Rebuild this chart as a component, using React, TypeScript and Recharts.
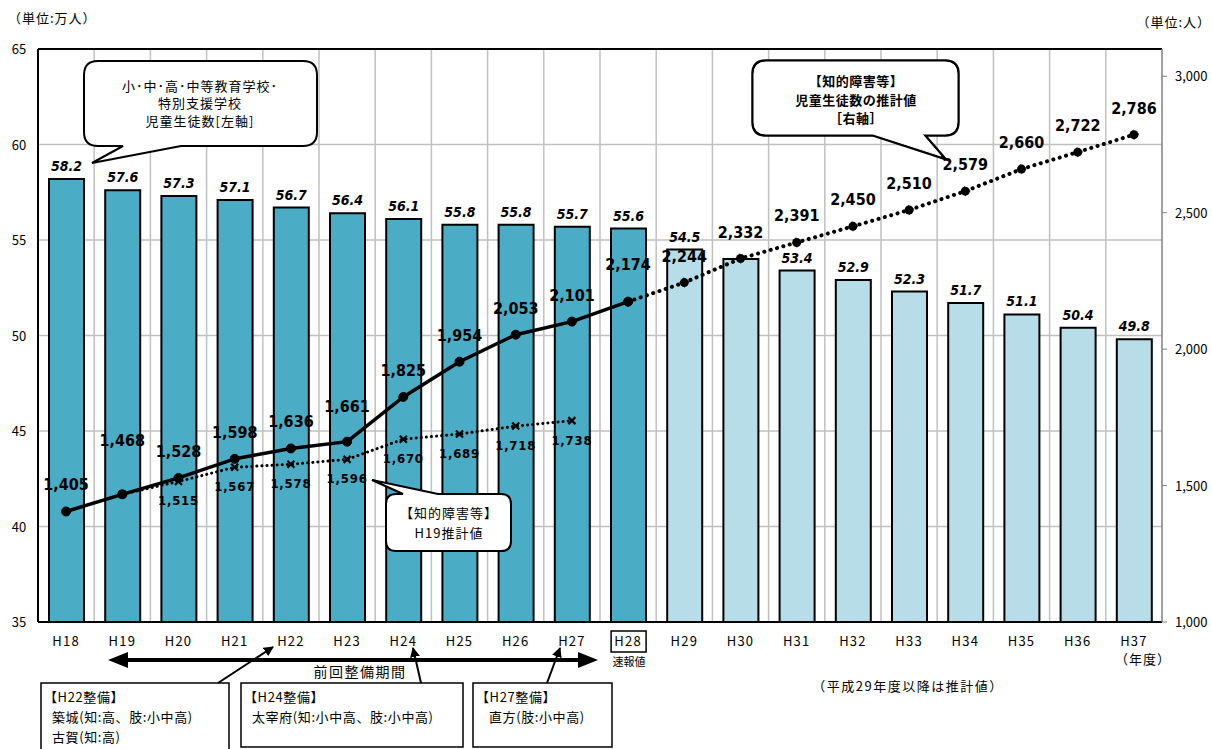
import React from 'react';
import {
  ComposedChart,
  Bar,
  Line,
  XAxis,
  YAxis,
  CartesianGrid,
  Cell,
  LabelList,
  ReferenceLine,
} from 'recharts';

// ---------- data ----------
const categories = [
  'H18', 'H19', 'H20', 'H21', 'H22', 'H23', 'H24', 'H25', 'H26', 'H27',
  'H28', 'H29', 'H30', 'H31', 'H32', 'H33', 'H34', 'H35', 'H36', 'H37',
];
// 小・中・高・中等教育学校・特別支援学校 児童生徒数（万人）[左軸]
const studentCounts = [
  58.2, 57.6, 57.3, 57.1, 56.7, 56.4, 56.1, 55.8, 55.8, 55.7,
  55.6, 54.5, 54.0, 53.4, 52.9, 52.3, 51.7, 51.1, 50.4, 49.8,
];
// 知的障害等 児童生徒数 実績（人）[右軸]
const disabledActual = [
  1405, 1468, 1528, 1598, 1636, 1661, 1825, 1954, 2053, 2101,
  2174, null, null, null, null, null, null, null, null, null,
];
// 知的障害等 児童生徒数の推計値（人）[右軸]
const disabledProjection = [
  null, null, null, null, null, null, null, null, null, null,
  2174, 2244, 2332, 2391, 2450, 2510, 2579, 2660, 2722, 2786,
];
// 知的障害等 H19推計値（人）
const h19Estimate = [
  null, 1468, 1515, 1567, 1578, 1596, 1670, 1689, 1718, 1738,
  null, null, null, null, null, null, null, null, null, null,
];
const leftTicks = [35, 40, 45, 50, 55, 60, 65];
const rightTicks = [1000, 1500, 2000, 2500, 3000];
const firstEstimateCategory = 'H29';
const preliminaryCategory = 'H28';
const hiddenBarLabels = ['H30'];

const data = categories.map((cat, i) => ({
  cat,
  students: studentCounts[i],
  actual: disabledActual[i],
  projection: disabledProjection[i],
  h19: h19Estimate[i],
}));
const firstEstimateIndex = categories.indexOf(firstEstimateCategory);

// ---------- styles ----------
const NUM_FONT = "'DejaVu Sans Condensed', 'DejaVu Sans', sans-serif";
const JP_FONT = "'Noto Sans CJK JP', 'Noto Sans', sans-serif";
const DARK = '#4BACC6';
const LIGHT = '#B7DDE8';

// ---------- custom renderers ----------
const XTick = (props: any) => {
  const { x, y, payload } = props;
  const v = payload.value;
  return (
    <g>
      <text x={x} y={y + 24} textAnchor="middle" fontFamily={JP_FONT} fontSize={13} letterSpacing={1.2} fill="#000">
        {v}
      </text>
      {v === preliminaryCategory && (
        <g>
          <rect x={x - 17} y={y + 9} width={35} height={21} fill="none" stroke="#000" strokeWidth={1.5} />
          <text x={x + 1} y={y + 44} textAnchor="middle" fontFamily={JP_FONT} fontSize={11} fill="#000">
            速報値
          </text>
        </g>
      )}
      {v === categories[categories.length - 1] && (
        <text x={x + 9} y={y + 42} textAnchor="middle" fontFamily={JP_FONT} fontSize={13} letterSpacing={1} fill="#000">
          （年度）
        </text>
      )}
    </g>
  );
};

const LeftTick = (props: any) => {
  const { x, y, payload } = props;
  return (
    <text x={x - 19} y={y + 5} textAnchor="middle" fontFamily={JP_FONT} fontSize={13} fill="#000">
      {payload.value}
    </text>
  );
};

const RightTick = (props: any) => {
  const { x, y, payload } = props;
  return (
    <text x={x} y={y + 5} textAnchor="start" fontFamily={JP_FONT} fontSize={13} fill="#000">
      {Number(payload.value).toLocaleString('en-US')}
    </text>
  );
};

const BarValueLabel = (props: any) => {
  const { x, y, width, value, index } = props;
  if (value == null) return null;
  if (hiddenBarLabels.includes(categories[index])) return null;
  return (
    <text
      x={x + width / 2}
      y={y - 8}
      textAnchor="middle"
      fontFamily={NUM_FONT}
      fontSize={14}
      fontWeight="bold"
      fontStyle="italic"
      fill="#000"
    >
      {Number(value).toFixed(1)}
    </text>
  );
};

const mainLabelLift: Record<string, number> = { H19: 54, H23: 36, H28: 38 };
const MainLineLabel = (skipCats: string[]) => (props: any) => {
  const { x, y, value, index } = props;
  if (value == null) return null;
  const cat = categories[index];
  if (skipCats.includes(cat)) return null;
  const lift = mainLabelLift[cat] ?? 27;
  return (
    <text
      x={x}
      y={y - lift + 6}
      textAnchor="middle"
      fontFamily={NUM_FONT}
      fontSize={16}
      fontWeight="bold"
      fill="#000"
    >
      {Number(value).toLocaleString('en-US')}
    </text>
  );
};

const EstimateLabel = (props: any) => {
  const { x, y, value, index } = props;
  if (value == null) return null;
  if (index === 1) return null;
  return (
    <text
      x={x}
      y={y + 24}
      textAnchor="middle"
      fontFamily={NUM_FONT}
      fontSize={13}
      fontWeight="bold"
      letterSpacing={0.8}
      fill="#000"
    >
      {Number(value).toLocaleString('en-US')}
    </text>
  );
};

const CrossDot = (props: any) => {
  const { cx, cy, value, index } = props;
  if (value == null || cx == null || cy == null) return <g key={`x${index}`} />;
  const s = 3.5;
  return (
    <path
      key={`x${index}`}
      d={`M${cx - s},${cy - s}L${cx + s},${cy + s}M${cx - s},${cy + s}L${cx + s},${cy - s}`}
      stroke="#000"
      strokeWidth={2.2}
      fill="none"
    />
  );
};

// speech bubble path
function bubblePath(
  x: number, y: number, w: number, h: number, r: number,
  tail: { side: 'top' | 'bottom'; a: number; b: number; tx: number; ty: number }
) {
  const x2 = x + w;
  const y2 = y + h;
  let d = `M${x + r},${y}`;
  if (tail.side === 'top') d += `L${tail.a},${y}L${tail.tx},${tail.ty}L${tail.b},${y}`;
  d += `L${x2 - r},${y}Q${x2},${y} ${x2},${y + r}L${x2},${y2 - r}Q${x2},${y2} ${x2 - r},${y2}`;
  if (tail.side === 'bottom') d += `L${tail.b},${y2}L${tail.tx},${tail.ty}L${tail.a},${y2}`;
  d += `L${x + r},${y2}Q${x},${y2} ${x},${y2 - r}L${x},${y + r}Q${x},${y} ${x + r},${y}Z`;
  return d;
}

const Overlay = () => {
  const b1 = bubblePath(84, 61, 233, 85, 14, { side: 'bottom', a: 123, b: 181, tx: 92, ty: 163 });
  const b2 = bubblePath(754, 62, 203, 72, 12, { side: 'bottom', a: 873, b: 922, tx: 941, ty: 156 });
  const b3 = bubblePath(386, 494, 125, 57, 10, { side: 'top', a: 403, b: 438, tx: 372, ty: 480 });
  const txt = { fontFamily: JP_FONT, fontSize: 13, fill: '#000' } as const;
  return (
    <svg
      width={1212}
      height={749}
      style={{ position: 'absolute', left: 0, top: 0, pointerEvents: 'none' }}
    >
      <defs>
        <marker id="ah" viewBox="0 0 10 10" refX="9" refY="5" markerWidth="5" markerHeight="5" orient="auto">
          <path d="M0,0L10,5L0,10Z" fill="#000" />
        </marker>
      </defs>
      {/* units */}
      <text x={8} y={23} {...txt} letterSpacing={1}>（単位:万人）</text>
      <text x={1211} y={27} textAnchor="end" {...txt} letterSpacing={1}>（単位:人）</text>

      {/* bubble 1 */}
      <path d={b1} fill="#fff" stroke="#000" strokeWidth={2} />
      <text x={200} y={91} textAnchor="middle" {...txt} letterSpacing={1}>小･中･高･中等教育学校･</text>
      <text x={200} y={108} textAnchor="middle" {...txt} letterSpacing={1}>特別支援学校</text>
      <text x={200} y={126} textAnchor="middle" {...txt} letterSpacing={1}>児童生徒数[左軸]</text>

      {/* bubble 2 */}
      <path d={b2} fill="#fff" stroke="#000" strokeWidth={5.5} />
      <path d={b2} fill="#fff" stroke="#fff" strokeWidth={1} />
      <text x={856} y={86} textAnchor="middle" {...txt} fontWeight="bold" letterSpacing={0.5}>【知的障害等】</text>
      <text x={856} y={105} textAnchor="middle" {...txt} fontWeight="bold" letterSpacing={0.5}>児童生徒数の推計値</text>
      <text x={856} y={123} textAnchor="middle" {...txt} fontWeight="bold" letterSpacing={0.5}>［右軸］</text>

      {/* bubble 3 */}
      <path d={b3} fill="#fff" stroke="#000" strokeWidth={2} />
      <text x={449} y={518} textAnchor="middle" {...txt} letterSpacing={1}>【知的障害等】</text>
      <text x={449} y={538} textAnchor="middle" {...txt} letterSpacing={1}>H19推計値</text>

      {/* period arrow */}
      <line x1={124} y1={660} x2={582} y2={660} stroke="#000" strokeWidth={4} />
      <path d="M108,660L128,652L128,668Z" fill="#000" />
      <path d="M598,660L578,652L578,668Z" fill="#000" />
      <text x={360} y={677} textAnchor="middle" {...txt} fontSize={14} letterSpacing={1.5}>前回整備期間</text>

      {/* boxes */}
      <rect x={41} y={683} width={188} height={80} fill="#fff" stroke="#000" strokeWidth={1.5} />
      <rect x={241} y={683} width={222} height={64} fill="#fff" stroke="#000" strokeWidth={1.5} />
      <rect x={473} y={683} width={139} height={64} fill="#fff" stroke="#000" strokeWidth={1.5} />
      <line x1={218} y1={683} x2={273} y2={647} stroke="#000" strokeWidth={2} markerEnd="url(#ah)" />
      <line x1={421} y1={683} x2={413} y2={648} stroke="#000" strokeWidth={2} markerEnd="url(#ah)" />
      <line x1={547} y1={683} x2={560} y2={648} stroke="#000" strokeWidth={2} markerEnd="url(#ah)" />

      <text x={44} y={702} {...txt} letterSpacing={0.6}>【H22整備】</text>
      <text x={52} y={722} {...txt} letterSpacing={0.6}>築城(知:高、肢:小中高)</text>
      <text x={52} y={742} {...txt} letterSpacing={0.6}>古賀(知:高)</text>
      <text x={244} y={702} {...txt} letterSpacing={0.6}>【H24整備】</text>
      <text x={252} y={722} {...txt} letterSpacing={0.6}>太宰府(知:小中高、肢:小中高)</text>
      <text x={476} y={702} {...txt} letterSpacing={0.6}>【H27整備】</text>
      <text x={489} y={722} {...txt} letterSpacing={0.6}>直方(肢:小中高)</text>

      <text x={908} y={691} textAnchor="middle" {...txt} letterSpacing={1.5}>（平成29年度以降は推計値）</text>
    </svg>
  );
};

export default function App() {
  return (
    <div style={{ position: 'absolute', left: 0, top: 0, width: 1212, height: 749, background: '#fff' }}>
      <ComposedChart
        width={1212}
        height={749}
        data={data}
        margin={{ top: 49, right: 0, bottom: 0, left: 0 }}
      >
        <CartesianGrid
          yAxisId="left"
          stroke="#C0C0C0"
          strokeWidth={1.5}
          horizontal
          vertical
          verticalCoordinatesGenerator={(p: any) => {
            const n = categories.length;
            const l = p?.offset?.left ?? 38;
            const w = p?.offset?.width ?? 1124;
            return categories.slice(1).map((_, i) => l + (w * (i + 1)) / n);
          }}
        />
        <XAxis
          dataKey="cat"
          height={127}
          tickSize={0}
          tickMargin={0}
          interval={0}
          axisLine={{ stroke: '#000', strokeWidth: 2 }}
          tickLine={false}
          tick={<XTick />}
        />
        <YAxis
          yAxisId="left"
          width={38}
          domain={[35, 65]}
          ticks={leftTicks}
          interval={0}
          tickSize={0}
          tickMargin={0}
          tickLine={false}
          axisLine={{ stroke: '#000', strokeWidth: 2 }}
          tick={<LeftTick />}
          allowDataOverflow
        />
        <YAxis
          yAxisId="right"
          orientation="right"
          width={50}
          domain={[1000, 3100]}
          ticks={rightTicks}
          interval={0}
          tickSize={5}
          tickMargin={8}
          tickLine={{ stroke: '#808080' }}
          axisLine={{ stroke: '#808080', strokeWidth: 1.5 }}
          tick={<RightTick />}
          allowDataOverflow
        />
        <ReferenceLine yAxisId="left" y={65} stroke="#000" strokeWidth={2} />
        <Bar
          yAxisId="left"
          dataKey="students"
          barSize={35}
          stroke="#000"
          strokeWidth={2}
          isAnimationActive={false}
        >
          {data.map((d, i) => (
            <Cell key={d.cat} fill={i >= firstEstimateIndex ? LIGHT : DARK} />
          ))}
          <LabelList dataKey="students" content={BarValueLabel} />
        </Bar>
        <Line
          yAxisId="right"
          dataKey="h19"
          stroke="#000"
          strokeWidth={3}
          strokeDasharray="0.1 5"
          strokeLinecap="round"
          dot={CrossDot}
          activeDot={false}
          isAnimationActive={false}
        >
          <LabelList dataKey="h19" content={EstimateLabel} />
        </Line>
        <Line
          yAxisId="right"
          dataKey="projection"
          stroke="#000"
          strokeWidth={4}
          strokeDasharray="0.1 6.5"
          strokeLinecap="round"
          dot={{ r: 4.5, fill: '#000', stroke: '#000', strokeWidth: 1 }}
          activeDot={false}
          isAnimationActive={false}
        >
          <LabelList dataKey="projection" content={MainLineLabel([preliminaryCategory])} />
        </Line>
        <Line
          yAxisId="right"
          dataKey="actual"
          stroke="#000"
          strokeWidth={3.5}
          dot={{ r: 4.5, fill: '#000', stroke: '#000', strokeWidth: 1 }}
          activeDot={false}
          isAnimationActive={false}
        >
          <LabelList dataKey="actual" content={MainLineLabel([])} />
        </Line>
      </ComposedChart>
      <Overlay />
    </div>
  );
}
